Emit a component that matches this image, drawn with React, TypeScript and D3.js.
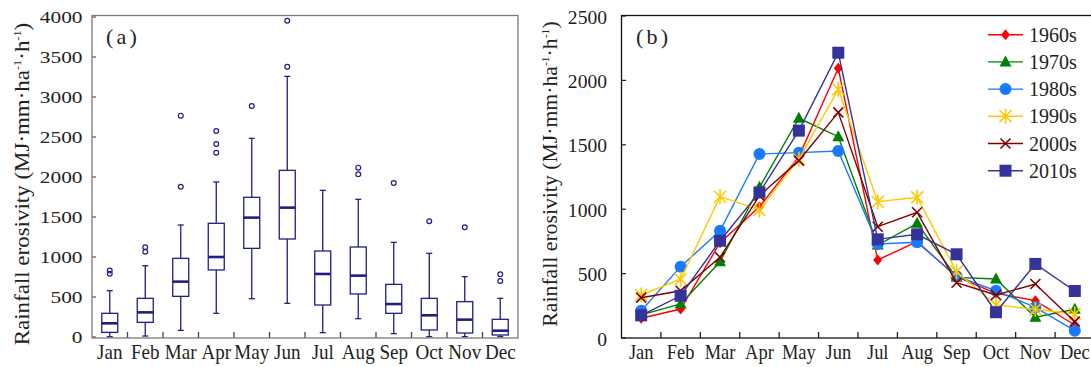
import React from "react";
import * as d3 from "d3";

const months = ["Jan", "Feb", "Mar", "Apr", "May", "Jun", "Jul", "Aug", "Sep", "Oct", "Nov", "Dec"];

// panel (a) box stats per month
const boxLow = [4, 12, 83, 296, 479, 421, 54, 229, 42, 4, 4, 4];
const boxQ1 = [58, 183, 508, 838, 1108, 1225, 400, 538, 296, 88, 50, 25];
const boxMedian = [171, 308, 692, 1000, 1492, 1617, 788, 767, 412, 271, 217, 79];
const boxQ3 = [296, 483, 983, 1421, 1746, 2083, 1075, 1125, 658, 483, 442, 221];
const boxHigh = [579, 891, 1400, 1938, 2483, 3258, 1833, 1721, 1183, 1046, 754, 483];
const boxOutliers = [
  [830, 790],
  [1121, 1066],
  [2767, 1879],
  [2575, 2412, 2304],
  [2887],
  [3954, 3379],
  [],
  [2117, 2033],
  [1925],
  [1446],
  [1371],
  [783, 700],
];

// panel (b) decadal means
const decades = ["1960s", "1970s", "1980s", "1990s", "2000s", "2010s"];
const v1960 = [153, 225, 740, 1019, 1408, 2094, 606, 748, 476, 347, 290, 101];
const v1970 = [179, 264, 592, 1170, 1706, 1563, 722, 890, 471, 458, 161, 223];
const v1980 = [212, 554, 833, 1429, 1439, 1452, 730, 743, 480, 367, 238, 57];
const v1990 = [334, 456, 1097, 994, 1388, 1931, 1058, 1092, 515, 256, 223, 186];
const v2000 = [313, 367, 627, 1105, 1377, 1752, 864, 976, 429, 334, 419, 127];
const v2010 = [176, 328, 755, 1130, 1610, 2215, 766, 805, 650, 200, 575, 365];
const seriesValues = [v1960, v1970, v1980, v1990, v2000, v2010];
const seriesColors = ["#ff0000", "#008000", "#1a7aff", "#ffc800", "#800000", "#333399"];
const seriesMarkers = ["diamond", "triangle", "circle", "star", "cross", "square"];

const ticksA = [0, 500, 1000, 1500, 2000, 2500, 3000, 3500, 4000];
const ticksB = [0, 500, 1000, 1500, 2000, 2500];

const font = "'Liberation Serif', 'Times New Roman', serif";
const navy = "#1f1f85";
const ink = "#222";

const Marker = ({ type, x, y, color }) => {
  if (type === "diamond")
    return <path d={`M${x},${y - 5.5}L${x + 4.5},${y}L${x},${y + 5.5}L${x - 4.5},${y}Z`} fill={color} />;
  if (type === "triangle")
    return <path d={`M${x},${y - 6.5}L${x + 6},${y + 4.5}L${x - 6},${y + 4.5}Z`} fill={color} />;
  if (type === "circle") return <circle cx={x} cy={y} r={6} fill={color} />;
  if (type === "square") return <rect x={x - 6} y={y - 6} width={12} height={12} fill={color} />;
  if (type === "cross")
    return (
      <path
        d={`M${x - 5},${y - 5}L${x + 5},${y + 5}M${x - 5},${y + 5}L${x + 5},${y - 5}`}
        stroke={color}
        strokeWidth={1.6}
      />
    );
  // star: x plus vertical bar
  return (
    <path
      d={`M${x - 6},${y - 6}L${x + 6},${y + 6}M${x - 6},${y + 6}L${x + 6},${y - 6}M${x},${y - 7.5}L${x},${y + 7.5}`}
      stroke={color}
      strokeWidth={1.6}
    />
  );
};

// text stretched/squeezed sideways, like the source figure
const T = ({ x, y, sx = 1, anchor = "start", size = 18, children }) => (
  <text
    transform={`translate(${x},${y}) scale(${sx},1)`}
    textAnchor={anchor}
    fontFamily={font}
    fontSize={size}
    fill={ink}
  >
    {children}
  </text>
);

const AxisTitle = ({ x, y, sx }) => (
  <text
    transform={`translate(${x},${y}) rotate(-90) scale(${sx},1)`}
    textAnchor="middle"
    fontFamily={font}
    fontSize={20.5}
    fill={ink}
  >
    Rainfall erosivity (MJ·mm·ha
    <tspan fontSize={11} dy={-8}>-1</tspan>
    <tspan dy={8}>·h</tspan>
    <tspan fontSize={11} dy={-8}>-1</tspan>
    <tspan dy={8}>)</tspan>
  </text>
);

const App = () => {
  // Panel (a)
  const xA = d3.scaleBand().domain(months).range([92, 518]);
  const yA = d3.scaleLinear().domain([0, 4000]).range([337, 17]);
  const boxW = 16;

  // Panel (b)
  const xB = d3.scaleBand().domain(months).range([621.5, 1094.5]);
  const yB = d3.scaleLinear().domain([0, 2500]).range([338, 16]);
  const line = d3
    .line()
    .x((d, i) => xB(months[i]) + xB.bandwidth() / 2)
    .y((d) => yB(d));

  return (
    <svg width={1091} height={367} style={{ position: "absolute", left: 0, top: 0, background: "#fff" }}>
      {/* ---------- panel (a) ---------- */}
      <AxisTitle x={29} y={184} sx={1.12} />
      {ticksA.map((t) => (
        <g key={t}>
          <T x={82.5} y={yA(t) + 6.3} anchor="end" size={17.5} sx={1.22}>
            {t}
          </T>
          <line x1={92} x2={96} y1={yA(t)} y2={yA(t)} stroke="#555" strokeWidth={1.2} />
        </g>
      ))}
      {months.map((m, i) => {
        const cx = xA(m) + xA.bandwidth() / 2;
        return (
          <g key={m}>
            {i > 0 && <line x1={xA(m)} x2={xA(m)} y1={338} y2={332} stroke="#444" strokeWidth={1.3} />}
            <T x={cx} y={359} anchor="middle" size={20.5} sx={0.93}>
              {m}
            </T>
            <line x1={cx} x2={cx} y1={yA(boxHigh[i])} y2={yA(boxQ3[i])} stroke={navy} strokeWidth={1.3} />
            <line x1={cx} x2={cx} y1={yA(boxQ1[i])} y2={yA(boxLow[i])} stroke={navy} strokeWidth={1.3} />
            <line x1={cx - 3} x2={cx + 3} y1={yA(boxHigh[i])} y2={yA(boxHigh[i])} stroke={navy} strokeWidth={1.3} />
            <line x1={cx - 3} x2={cx + 3} y1={yA(boxLow[i])} y2={yA(boxLow[i])} stroke={navy} strokeWidth={1.3} />
            <rect
              x={cx - boxW / 2}
              y={yA(boxQ3[i])}
              width={boxW}
              height={yA(boxQ1[i]) - yA(boxQ3[i])}
              fill="#fff"
              stroke={navy}
              strokeWidth={1.3}
            />
            <line
              x1={cx - boxW / 2}
              x2={cx + boxW / 2}
              y1={yA(boxMedian[i])}
              y2={yA(boxMedian[i])}
              stroke={navy}
              strokeWidth={2.6}
            />
            {boxOutliers[i].map((o, j) => (
              <circle key={j} cx={cx} cy={yA(o)} r={2.4} fill="none" stroke={navy} strokeWidth={1.2} />
            ))}
          </g>
        );
      })}
      <rect x={92} y={15.5} width={426} height={322.5} fill="none" stroke="#7a7a7a" strokeWidth={1.3} />
      <T x={106} y={43.5} size={21} sx={1.05}>
        <tspan>(</tspan>
        <tspan dx={3}>a</tspan>
        <tspan dx={3}>)</tspan>
      </T>

      {/* ---------- panel (b) ---------- */}
      <AxisTitle x={557} y={174} sx={1.06} />
      {ticksB.map((t) => (
        <g key={t}>
          <T x={607} y={yB(t) + 7.5} anchor="end" size={18.3} sx={1.07}>
            {t}
          </T>
          <line x1={621.5} x2={626} y1={yB(t)} y2={yB(t)} stroke="#222" strokeWidth={1.2} />
        </g>
      ))}
      {months.map((m, i) => (
        <g key={m}>
          {i > 0 && <line x1={xB(m)} x2={xB(m)} y1={338} y2={332} stroke="#222" strokeWidth={1.3} />}
          <T x={xB(m) + xB.bandwidth() / 2} y={359} anchor="middle" size={20.5} sx={0.9}>
            {m}
          </T>
        </g>
      ))}
      {seriesValues.map((vals, s) => (
        <g key={decades[s]}>
          <path d={line(vals)} fill="none" stroke={seriesColors[s]} strokeWidth={1.4} />
          {vals.map((v, i) => (
            <Marker
              key={i}
              type={seriesMarkers[s]}
              x={xB(months[i]) + xB.bandwidth() / 2}
              y={yB(v)}
              color={seriesColors[s]}
            />
          ))}
        </g>
      ))}
      <rect x={621.5} y={15.5} width={473} height={322.5} fill="none" stroke="#111" strokeWidth={1.3} />
      <T x={636} y={43.5} size={21} sx={1.05}>
        <tspan>(</tspan>
        <tspan dx={3}>b</tspan>
        <tspan dx={3}>)</tspan>
      </T>

      {/* legend */}
      {decades.map((d, s) => {
        const ly = 34.7 + s * 27.2;
        return (
          <g key={d}>
            <line x1={988} x2={1023} y1={ly} y2={ly} stroke={seriesColors[s]} strokeWidth={1.4} />
            <Marker type={seriesMarkers[s]} x={1005.5} y={ly} color={seriesColors[s]} />
            <T x={1029} y={ly + 7} size={20}>
              {d}
            </T>
          </g>
        );
      })}
    </svg>
  );
};

export default App;
